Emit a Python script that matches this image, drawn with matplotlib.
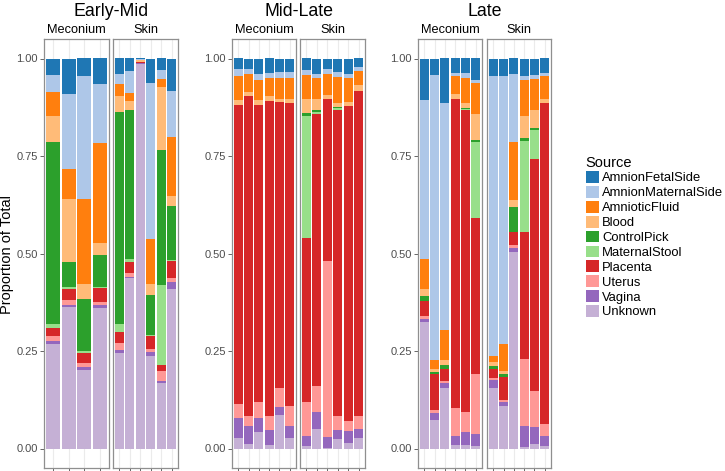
import matplotlib
matplotlib.use("Agg")
import matplotlib.pyplot as plt
from matplotlib.patches import Patch

plt.rcParams['font.family'] = ['Liberation Sans', 'DejaVu Sans']

# stack order top -> bottom (same as legend)
sources = ["AmnionFetalSide", "AmnionMaternalSide", "AmnioticFluid", "Blood", "ControlPick",
           "MaternalStool", "Placenta", "Uterus", "Vagina", "Unknown"]
colors = ["#1f77b4", "#aec7e8", "#ff7f0e", "#ffbb78", "#2ca02c",
          "#98df8a", "#d62728", "#ff9896", "#9467bd", "#c5b0d5"]

groups = ["Early-Mid", "Mid-Late", "Late"]
facets = ["Meconium", "Skin"]

# one row per sample, columns in the order of `sources`
early_mid_meconium = [
    [.043, .044, .060, .067, .467, .011, .019, .013, .007, .269],
    [.091, .193, .077, .160, .066, .005, .028, .011, .006, .363],
    [.045, .316, .218, .038, .133, .004, .026, .012, .007, .201],
    [.066, .150, .258, .029, .084, .002, .035, .009, .006, .361],
]
early_mid_skin = [
    [.040, .026, .031, .040, .544, .020, .028, .019, .008, .244],
    [.032, .056, .021, .022, .382, .008, .030, .009, .004, .436],
    [.002, .001, .002, .003, .001, .000, .002, .001, .001, .987],
    [.064, .399, .114, .030, .102, .002, .033, .008, .011, .237],
    [.029, .023, .020, .163, .346, .205, .016, .025, .005, .168],
    [.083, .118, .152, .026, .138, .002, .043, .011, .019, .408],
]
mid_late_meconium = [
    [.028, .017, .062, .011, .000, .000, .768, .037, .051, .026],
    [.028, .012, .047, .010, .000, .000, .820, .025, .047, .011],
    [.039, .015, .053, .013, .000, .000, .762, .039, .036, .043],
    [.037, .014, .045, .013, .000, .000, .808, .036, .038, .009],
    [.035, .014, .054, .008, .000, .000, .735, .047, .022, .085],
    [.035, .014, .054, .011, .000, .000, .777, .052, .030, .027],
]
mid_late_skin = [
    [.030, .012, .061, .038, .007, .311, .421, .088, .026, .006],
    [.039, .012, .052, .030, .004, .006, .696, .067, .044, .050],
    [.026, .014, .054, .009, .000, .000, .416, .451, .028, .002],
    [.035, .012, .068, .009, .003, .004, .786, .036, .023, .024],
    [.039, .012, .060, .011, .000, .000, .808, .025, .032, .013],
    [.022, .011, .035, .015, .000, .000, .834, .032, .023, .028],
]
late_meconium = [
    [.107, .408, .077, .017, .012, .000, .040, .007, .008, .324],
    [.043, .729, .023, .008, .006, .000, .091, .008, .018, .074],
    [.114, .583, .077, .012, .009, .000, .032, .006, .013, .154],
    [.036, .008, .047, .012, .000, .000, .793, .072, .023, .009],
    [.036, .013, .064, .013, .003, .004, .773, .051, .034, .009],
    [.054, .010, .079, .065, .007, .195, .398, .156, .030, .006],
]
late_skin = [
    [.045, .717, .017, .009, .007, .000, .023, .007, .019, .156],
    [.046, .686, .069, .008, .007, .000, .060, .004, .011, .109],
    [.040, .175, .147, .020, .062, .000, .034, .008, .009, .505],
    [.046, .010, .091, .058, .006, .235, .325, .171, .055, .003],
    [.043, .010, .079, .045, .007, .074, .594, .094, .043, .011],
    [.036, .010, .058, .009, .000, .000, .825, .030, .025, .007],
]

panels = {
    ("Early-Mid", "Meconium"): early_mid_meconium,
    ("Early-Mid", "Skin"): early_mid_skin,
    ("Mid-Late", "Meconium"): mid_late_meconium,
    ("Mid-Late", "Skin"): mid_late_skin,
    ("Late", "Meconium"): late_meconium,
    ("Late", "Skin"): late_skin,
}

W, H = 725, 471
fig = plt.figure(figsize=(W / 100, H / 100), dpi=100)

# panel left/right edges in pixels
panel_x = {
    ("Early-Mid", "Meconium"): (44, 109), ("Early-Mid", "Skin"): (113, 178),
    ("Mid-Late", "Meconium"): (232, 296), ("Mid-Late", "Skin"): (300, 365),
    ("Late", "Meconium"): (418, 482), ("Late", "Skin"): (487, 551),
}
top_px, bot_px = 39, 468
border = "#8f8f8f"

for (grp, fac), rows in panels.items():
    x0, x1 = panel_x[(grp, fac)]
    ax = fig.add_axes([x0 / W, 1 - bot_px / H, (x1 - x0) / W, (bot_px - top_px) / H])
    n = len(rows)
    xs = list(range(n))
    for i, row in enumerate(rows):
        bottom = 0.0
        # draw from the bottom of the stack (Unknown) upwards
        for k in range(len(sources) - 1, -1, -1):
            ax.bar(i, row[k], bottom=bottom, width=0.9, color=colors[k], linewidth=0, zorder=2)
            bottom += row[k]
    ax.set_xlim(-0.6, n - 0.4)
    ax.set_ylim(-0.05, 1.05)
    ax.set_xticks(xs)
    ax.set_xticklabels([])
    ax.grid(axis="x", color="#ebebeb", linewidth=0.8, zorder=0)
    for sp in ax.spines.values():
        sp.set_color(border)
        sp.set_linewidth(0.9)
    ax.tick_params(axis="x", length=3, color="#4d4d4d", width=0.6)
    if fac == "Meconium":
        ax.set_yticks([0, 0.25, 0.5, 0.75, 1.0])
        ax.set_yticklabels(["0.00", "0.25", "0.50", "0.75", "1.00"], fontsize=8, color="#4d4d4d")
        ax.tick_params(axis="y", length=3, color="#4d4d4d", width=0.6, pad=1.5)
    else:
        ax.set_yticks([])
    ax.text(0.5, 1.0 + 9 / (bot_px - top_px), fac, transform=ax.transAxes,
            ha="center", va="center", fontsize=9.2)

# group titles
for grp in groups:
    l = panel_x[(grp, "Meconium")][0]
    r = panel_x[(grp, "Skin")][1]
    fig.text((l + r) / 2 / W, 1 - 11 / H, grp, ha="center", va="center", fontsize=12.8)

fig.text(7 / W, 1 - 255 / H, "Proportion of Total", rotation=90, ha="center", va="center", fontsize=10.5)

handles = [Patch(facecolor=c, edgecolor="none") for c in colors]
leg = fig.legend(handles, sources, loc="upper left", bbox_to_anchor=(583 / W, 1 - 153 / H),
                 frameon=False, title="Source", fontsize=9.4, title_fontsize=10.5,
                 handlelength=1.0, handleheight=1.0, handletextpad=0.25, labelspacing=0.12,
                 alignment="left", borderaxespad=0, borderpad=0.2)

fig.savefig("out.png", dpi=100)
